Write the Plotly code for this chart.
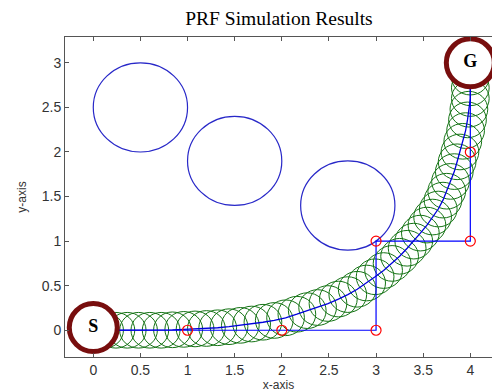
import plotly.graph_objects as go

# Robot path (positions of the moving robot)
path_x = [0, 0.12, 0.24, 0.36, 0.48, 0.6, 0.72, 0.84, 0.96, 1.08, 1.2, 1.32, 1.44, 1.56, 1.68, 1.8,
          1.92, 2.04, 2.16, 2.27, 2.38, 2.49, 2.6, 2.7, 2.8, 2.9, 2.99, 3.08, 3.17, 3.25, 3.33, 3.4,
          3.47, 3.54, 3.6, 3.66, 3.71, 3.75, 3.79, 3.83, 3.86, 3.89, 3.92, 3.95, 3.97, 3.985, 4.0,
          4.0, 4.0, 4.0, 4.0]
path_y = [0, 0, 0, 0, 0, 0, 0, 0.005, 0.01, 0.015, 0.02, 0.028, 0.04, 0.055, 0.07, 0.09,
          0.11, 0.14, 0.18, 0.22, 0.255, 0.3, 0.35, 0.4, 0.46, 0.53, 0.6, 0.67, 0.75, 0.83, 0.92, 1.0,
          1.09, 1.18, 1.27, 1.36, 1.46, 1.56, 1.67, 1.78, 1.89, 2.0, 2.12, 2.24, 2.36, 2.48, 2.6,
          2.72, 2.84, 2.96, 3.0]
robot_r = 0.2

# Waypoint polyline
wp_x = [0, 1, 2, 3, 3, 4, 4, 4]
wp_y = [0, 0, 0, 0, 1, 1, 2, 3]
# Red waypoint markers
mk_x = [1, 2, 3, 3, 4, 4]
mk_y = [0, 0, 0, 1, 1, 2]

# Obstacles
obs_x = [0.5, 1.5, 2.7]
obs_y = [2.5, 1.9, 1.4]
obs_r = [0.5, 0.5, 0.5]

# Start / goal
sg_x = [0, 4]
sg_y = [0.03, 3]
sg_lbl = ["S", "G"]

fig = go.Figure()

shapes = []
for cx, cy in zip(path_x[:-1], path_y[:-1]):
    shapes.append(dict(type="circle", xref="x", yref="y", x0=cx - robot_r, x1=cx + robot_r,
                       y0=cy - robot_r, y1=cy + robot_r, line=dict(color="rgb(20,115,20)", width=1),
                       layer="below"))
for cx, cy, r in zip(obs_x, obs_y, obs_r):
    shapes.append(dict(type="circle", xref="x", yref="y", x0=cx - r, x1=cx + r,
                       y0=cy - r, y1=cy + r, line=dict(color="rgb(40,40,200)", width=1.2),
                       layer="below"))

fig.add_trace(go.Scatter(x=wp_x, y=wp_y, mode="lines", line=dict(color="rgb(0,0,255)", width=1.2),
                         hoverinfo="skip"))
fig.add_trace(go.Scatter(x=path_x, y=path_y, mode="lines", line=dict(color="rgb(0,0,220)", width=1.3),
                         hoverinfo="skip"))
fig.add_trace(go.Scatter(x=mk_x, y=mk_y, mode="markers",
                         marker=dict(symbol="circle-open", size=10, color="red", line=dict(width=1.2)),
                         hoverinfo="skip"))
fig.add_trace(go.Scatter(x=sg_x, y=sg_y, mode="markers+text", text=sg_lbl, textposition="middle center",
                         textfont=dict(family="Liberation Serif", size=18, color="black"),
                         marker=dict(symbol="circle", size=48, color="white",
                                     line=dict(color="rgb(120,14,14)", width=5)),
                         hoverinfo="skip"))

axis_common = dict(showline=True, linecolor="#555", linewidth=1, ticks="inside",
                   ticklen=4, tickcolor="#555", showgrid=False, zeroline=False,
                   tickfont=dict(family="Liberation Sans", size=14, color="#333"))

fig.update_layout(
    width=492, height=392,
    margin=dict(l=65, r=0, t=37, b=35),
    paper_bgcolor="white", plot_bgcolor="white",
    showlegend=False,
    shapes=shapes,
    title=dict(text="PRF Simulation Results", x=0.567, xanchor="center", y=1 - 18 / 392,
               yanchor="middle", yref="container",
               font=dict(family="Liberation Serif", size=19.5, color="black")),
    xaxis=dict(range=[-0.3, 4.23], tickmode="array", tickvals=[0, 0.5, 1, 1.5, 2, 2.5, 3, 3.5, 4],
               ticktext=["0", "0.5", "1", "1.5", "2", "2.5", "3", "3.5", "4"], mirror="ticks",
               title=dict(text="x-axis", standoff=4,
                          font=dict(family="Liberation Sans", size=12, color="#333")),
               **axis_common),
    yaxis=dict(range=[-0.3, 3.29], tickmode="array", tickvals=[0, 0.5, 1, 1.5, 2, 2.5, 3],
               ticktext=["0", "0.5", "1", "1.5", "2", "2.5", "3"], mirror=False,
               title=dict(text="y-axis", standoff=12,
                          font=dict(family="Liberation Sans", size=12, color="#333")),
               **axis_common),
)
fig.update_traces(textfont_weight="bold", selector=dict(mode="markers+text"))

fig.write_html("out.html")
